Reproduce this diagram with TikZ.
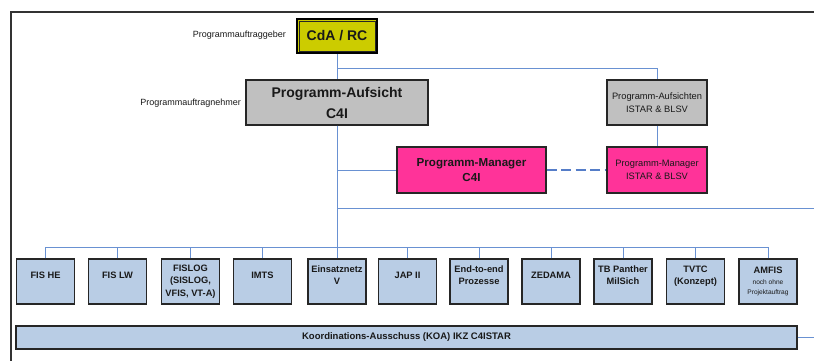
\documentclass[tikz,border=0pt]{standalone}
\usepackage{fontspec}
\setmainfont{Liberation Sans}
\definecolor{ylwbox}{RGB}{204,204,0}
\definecolor{grybox}{RGB}{192,192,192}
\definecolor{pinkbox}{RGB}{255,51,153}
\definecolor{bluebox}{RGB}{185,205,229}
\definecolor{wireblue}{RGB}{105,145,210}
\definecolor{dashblue}{RGB}{85,125,200}
\begin{document}
\begin{tikzpicture}[x=1pt,y=-1pt,
  box/.style={draw=black!85, line width=1.2pt, rectangle, inner sep=0pt, align=center, text=black!90},
  unit/.style={box, fill=bluebox, minimum width=58pt, minimum height=45pt,
    font=\fontsize{9.3}{12.5}\selectfont\bfseries},
  side/.style={font=\fontsize{9}{11}\selectfont, text=black!90, inner sep=0pt, anchor=east},
  wire/.style={draw=wireblue, line width=0.9pt},
  dashwire/.style={draw=dashblue, line width=2.3pt, dash pattern=on 10pt off 4.5pt}]
\useasboundingbox (0,0) rectangle (814,361);

% outer frame (top and left edges)
\draw[line width=1.5pt, black!80] (814,12) -- (11,12) -- (11,361);

% sponsor and programme supervision
\node[box, fill=ylwbox, minimum width=80pt, minimum height=34pt, line width=1.8pt,
      draw=black, font=\fontsize{14}{16}\selectfont\bfseries] (cda) at (337,36) {CdA / RC};
\draw[black!85, line width=0.7pt] ([shift={(2.8pt,-2.8pt)}]cda.north west)
  rectangle ([shift={(-2.8pt,2.8pt)}]cda.south east);
\node[side] (lblgeber) at (286,35) {Programmauftraggeber};

\node[box, fill=grybox, minimum width=182pt, minimum height=45pt,
      font=\fontsize{14}{21}\selectfont\bfseries] (pa) at (337,102.5) {Programm-Aufsicht\\C4I};
\node[side] (lblnehmer) at (241,103) {Programmauftragnehmer};

\node[box, fill=grybox, minimum width=100pt, minimum height=45pt,
      font=\fontsize{9.3}{12.4}\selectfont] (pas) at (657,102.5) {Programm-Aufsichten\\ISTAR \& BLSV};

% programme managers
\node[box, fill=pinkbox, minimum width=149pt, minimum height=46pt,
      font=\fontsize{11.6}{15.7}\selectfont\bfseries] (pmc) at (471.5,170) {Programm-Manager\\C4I};
\node[box, fill=pinkbox, minimum width=100pt, minimum height=46pt,
      font=\fontsize{9.3}{12.5}\selectfont] (pmi) at (657,170) {Programm-Manager\\ISTAR \& BLSV};

% projects
\node[unit] (b1)  at (45.5,281.5)  {FIS HE\\\mbox{}};
\node[unit] (b2)  at (117.5,281.5) {FIS LW\\\mbox{}};
\node[unit] (b3)  at (190.5,281.5) {FISLOG\\(SISLOG,\\VFIS, VT-A)};
\node[unit] (b4)  at (262.5,281.5) {IMTS\\\mbox{}};
\node[unit] (b5)  at (337,281.5)   {Einsatznetz\\V\\\mbox{}};
\node[unit] (b6)  at (407.5,281.5) {JAP II\\\mbox{}};
\node[unit] (b7)  at (479,281.5)   {End-to-end\\Prozesse\\\mbox{}};
\node[unit] (b8)  at (551,281.5)   {ZEDAMA\\\mbox{}};
\node[unit] (b9)  at (623,281.5)   {TB Panther\\MilSich\\\mbox{}};
\node[unit] (b10) at (695.5,281.5) {TVTC\\(Konzept)\\\mbox{}};
\node[unit] (b11) at (768,281.5)   {AMFIS\\[-1.5pt]{\fontsize{6.6}{7.5}\selectfont\mdseries noch ohne}\\[-2pt]{\fontsize{6.6}{7.5}\selectfont\mdseries Projektauftrag}};

% coordination committee
\node[box, fill=bluebox, minimum width=781pt, minimum height=23pt,
      font=\fontsize{9.5}{11}\selectfont\bfseries] (koa) at (406.5,337.5) {Koordinations-Ausschuss (KOA) IKZ C4ISTAR};

% connectors
\coordinate (jtop) at (337,68);
\coordinate (rmid) at (814,208);
\coordinate (rkoa) at (814,337.5);
\draw[wire] (cda.south) -- (pa.north);
\draw[wire] (jtop) -| (pas.north);
\draw[wire] (pas.south) -- (pmi.north);
\draw[wire] (pa.south) |- (pmc.west);
\draw[wire] (pa.south) |- (rmid);
\draw[wire] (pa.south) -- ([yshift=11pt]b5.north);
\draw[wire] ([yshift=11pt]b1.north) -- ([yshift=11pt]b11.north);
\foreach \i in {1,...,11}{
  \draw[wire] (b\i.north) -- ++(0,-11);
}
\draw[wire] (koa.east) -- (rkoa);
\draw[dashwire] (pmc.east) -- (pmi.west);
\end{tikzpicture}
\end{document}
